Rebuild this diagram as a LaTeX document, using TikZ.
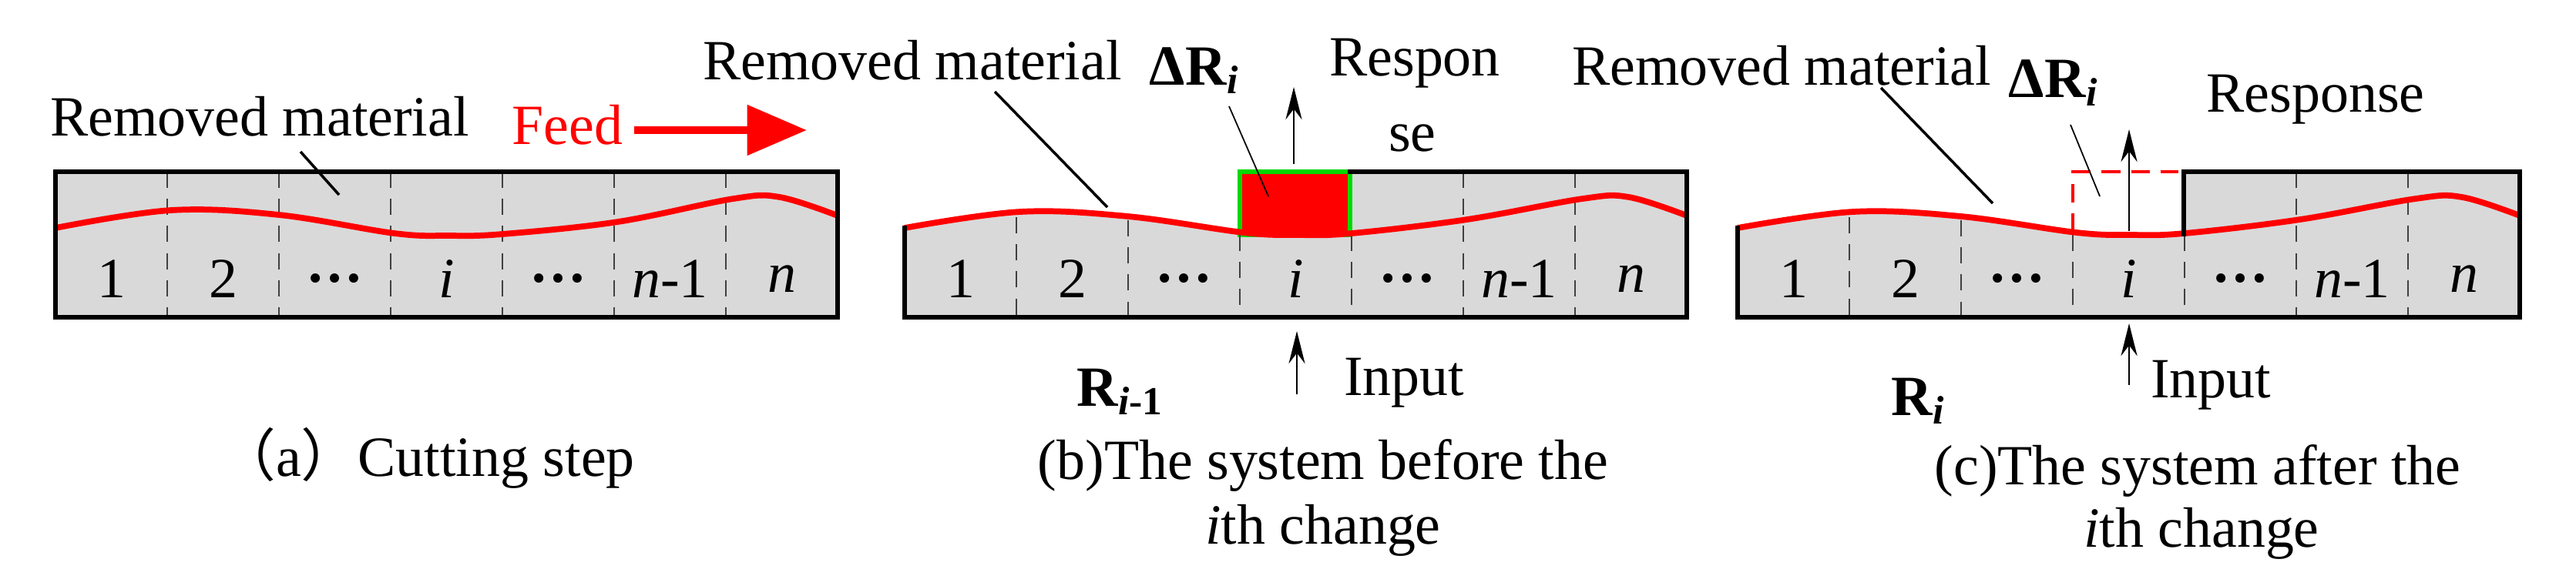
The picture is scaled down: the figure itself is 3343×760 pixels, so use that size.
\documentclass[tikz,border=0pt]{standalone}
\usepackage{fontspec}
\setmainfont{Liberation Serif}
\newfontfamily\cjkfont{Noto Sans CJK SC}
\usetikzlibrary{arrows.meta}
\definecolor{matgray}{HTML}{D9D9D9}
\tikzset{
  lbl/.style={inner sep=0pt,font=\rmfamily\fontsize{21}{24}\selectfont},
  border/.style={line width=1.8pt,line cap=rect},
  divider/.style={dash pattern=on 6pt off 4pt,line width=0.6pt,black!75},
  redcurve/.style={red,line width=2.2pt},
  leader/.style={line width=1pt},
  thinleader/.style={line width=0.5pt},
  sysarrow/.style={line width=0.7pt,-{Stealth[length=12pt,width=6pt]}},
}
\newcommand\curvepath{plot[smooth,tension=0.6] coordinates {(0,296) (150,275) (290,281) (440,302) (510,305) (580,303) (730,285) (880,258) (940,256) (1015,280)}}
\newcommand\celllabels{%
  \foreach \t [count=\k] in {1,2,{\bfseries …},\textit{i},{\bfseries …},\textit{n}-1,\textit{n}}
    \node[lbl] (c\k) at ({145*(\k-0.5)},362) {\t};}
\begin{document}
\begin{tikzpicture}[x=0.01cm,y=-0.01cm]
\useasboundingbox (0,0) rectangle (3343,760);
% ---------------- panel a
\begin{scope}[shift={(72,0)}]
  \fill[matgray] (0,223) rectangle (1015,412);
  \foreach \k in {1,...,6} \draw[divider] ({145*\k},223) -- ({145*\k},412);
  \draw[redcurve] plot[smooth,tension=0.6] coordinates {(0,296) (150,273) (290,279) (440,303) (510,306) (580,304) (730,288) (880,258) (940,256) (1015,280)};
  \draw[border] (0,223) rectangle (1015,412);
  \celllabels
  \node[lbl] (rma) at (265,151) {Removed material};
  \coordinate (rmaend) at (368,253);
  \draw[leader] (318,197) -- (rmaend);
  \node[lbl,red,anchor=west] (feed) at (592,162) {Feed};
  \coordinate (feedstart) at ([xshift=4pt]feed.east |- 0,169);
  \coordinate (feedend) at (975,169);
  \draw[red,line width=3pt,-{Triangle[length=22pt,width=18pt]}] (feedstart) -- (feedend);
  \node[lbl] (capa) at (482,595) {{\cjkfont （}a{\cjkfont ）}Cutting step};
\end{scope}
% ---------------- panel b
\begin{scope}[shift={(1174,0)}]
  \fill[matgray] (0,223) rectangle (1015,412);
  \begin{scope}
    \clip (-5,150) rectangle (578,412);
    \fill[white] \curvepath -- (1015,150) -- (-5,150) -- cycle;
  \end{scope}
  \fill[red] (435,223) rectangle (578,305);
  \draw[green!85!black,line width=1.6pt] (435,223) rectangle (578,305);
  \foreach \k/\s in {1/282,2/286,3/305} \draw[divider] ({145*\k},\s) -- ({145*\k},412);
  \foreach \k in {4,5,6} \draw[divider] ({145*\k},{\k==4?305:223}) -- ({145*\k},412);
  \draw[redcurve] \curvepath;
  \draw[border] (0,296) -- (0,412) -- (1015,412) -- (1015,223) -- (578,223);
  \celllabels
  \node[lbl] (rmb) at (10,78) {Removed material};
  \coordinate (rmbend) at (263,269);
  \draw[leader] (117,119) -- (rmbend);
  \node[lbl] (drb) at (376,92) {\textbf{ΔR}\textsubscript{\textbf{\textit{i}}}};
  \coordinate (drbend) at (472,255);
  \draw[thinleader] (421,138) -- (drbend);
  \coordinate (resb0) at (505,213); \coordinate (resb1) at (505,113);
  \draw[sysarrow] (resb0) -- (resb1);
  \node[lbl] (resb) at (662,82) {Respon};
  \node[lbl] (resb2) at (659,179) {se};
  \coordinate (inb0) at (509,512); \coordinate (inb1) at (509,430);
  \draw[sysarrow] (inb0) -- (inb1);
  \node[lbl] (inpb) at (648,497) {Input};
  \node[lbl] (rb) at (280,509) {\textbf{R}\textsubscript{\textbf{\textit{i}-1}}};
  \node[lbl] (capb1) at (543,604) {(b)The system before the};
  \node[lbl] (capb2) at (543,689) {\textit{i}th change};
\end{scope}
% ---------------- panel c
\begin{scope}[shift={(2255,0)}]
  \fill[matgray] (0,223) rectangle (1015,412);
  \begin{scope}
    \clip (-5,150) rectangle (578,412);
    \fill[white] \curvepath -- (1015,150) -- (-5,150) -- cycle;
  \end{scope}
  \draw[red,dash pattern=on 7pt off 4pt,line width=0.9pt] (435,302) -- (435,223) -- (572,223);
  \foreach \k/\s in {1/282,2/286,3/305} \draw[divider] ({145*\k},\s) -- ({145*\k},412);
  \foreach \k in {4,5,6} \draw[divider] ({145*\k},{\k==4?305:223}) -- ({145*\k},412);
  \draw[redcurve] \curvepath;
  \draw[border] (0,296) -- (0,412) -- (1015,412) -- (1015,223) -- (579,223) -- (579,304);
  \celllabels
  \node[lbl] (rmc) at (57,85) {Removed material};
  \coordinate (rmcend) at (331,264);
  \draw[leader] (186,114) -- (rmcend);
  \node[lbl] (drc) at (410,108) {\textbf{ΔR}\textsubscript{\textbf{\textit{i}}}};
  \coordinate (drcend) at (470,255);
  \draw[thinleader] (432,162) -- (drcend);
  \coordinate (resc0) at (508,300); \coordinate (resc1) at (508,168);
  \draw[sysarrow] (resc0) -- (resc1);
  \node[lbl] (resc) at (750,129) {Response};
  \coordinate (inc0) at (508,500); \coordinate (inc1) at (508,420);
  \draw[sysarrow] (inc0) -- (inc1);
  \node[lbl] (inpc) at (614,500) {Input};
  \node[lbl] (rc) at (235,521) {\textbf{R}\textsubscript{\textbf{\textit{i}}}};
  \node[lbl] (capc1) at (597,611) {(c)The system after the};
  \node[lbl] (capc2) at (602,693) {\textit{i}th change};
\end{scope}
\end{tikzpicture}
\end{document}
